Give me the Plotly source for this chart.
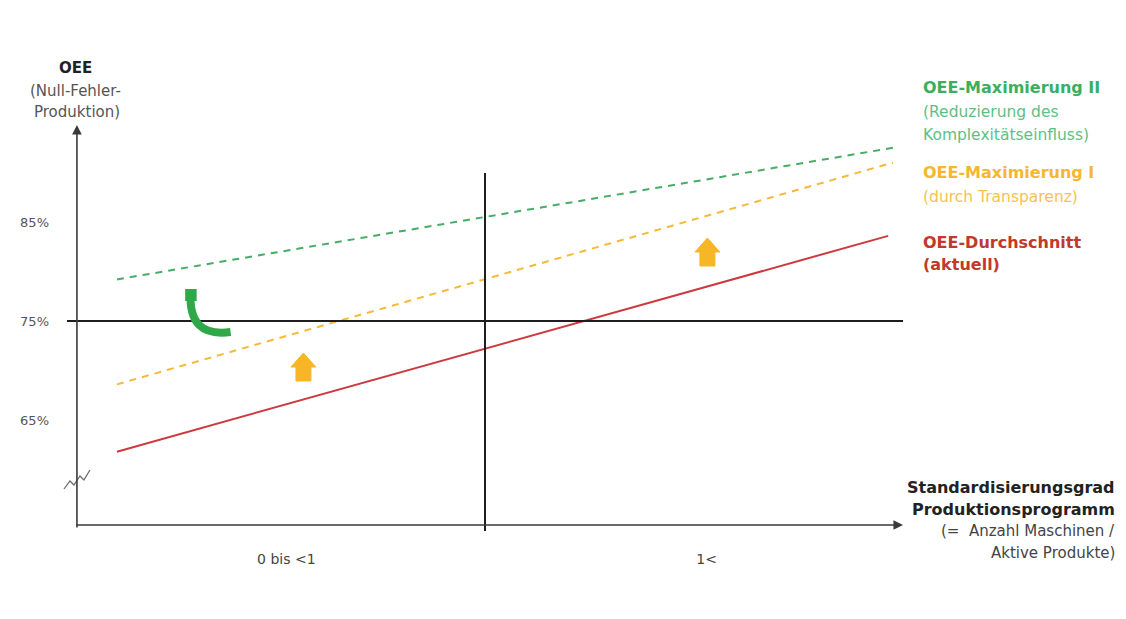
import plotly.graph_objects as go

# ---------------- data ----------------
x_start = [0.098, 0.098, 0.098]          # Standardisierungsgrad (schematic units, 1 = Trennlinie)
x_end = [2.0, 2.0, 1.988]
oee_start = [79.2, 68.6, 61.8]           # OEE in %
oee_end = [92.5, 91.0, 83.6]
series_names = ["OEE-Maximierung II", "OEE-Maximierung I", "OEE-Durchschnitt"]
series_colors = ["#45ad66", "#f6b93a", "#cc3a3f"]
series_dash = ["7px,6px", "7px,6px", "solid"]

y_tickvals = [65, 75, 85]
y_ticktext = ["65%", "75%", "85%"]
x_tickvals = [0.513, 1.543]
x_ticktext = ["0 bis <1", "1<"]

reference_oee = 75
divider_x = 1

up_arrows_x = [0.555, 1.545]
up_arrows_y = [70.35, 81.97]

# ---------------- helpers (pixel scale of the plot, page pixels) ----------------
PX_X = 409.0   # px per x unit
PX_Y = 9.9     # px per % OEE
X0 = 75        # page px of x=0
Y75 = 321      # page px of 75 %
PL, PR, PT, PB = 50, 925, 110, 545   # plot area in page px
OFF = 8        # body margin of the html page

def dx(px):
    return (px - X0) / PX_X

def dy(py):
    return 75 + (Y75 - py) / PX_Y

def paper_x(px):
    return (px - PL) / (PR - PL)

def paper_y(py):
    return (PB - py) / (PB - PT)

fig = go.Figure()

for xs, xe, ys, ye, name, col, dash in zip(x_start, x_end, oee_start, oee_end,
                                           series_names, series_colors, series_dash):
    fig.add_trace(go.Scatter(x=[xs, xe], y=[ys, ye], mode="lines", name=name,
                             line=dict(color=col, width=2, dash=dash),
                             showlegend=False, hoverinfo="skip"))

shapes = []
# reference 75% line
shapes.append(dict(type="line", xref="x", yref="y", x0=dx(65), x1=dx(903),
                   y0=reference_oee, y1=reference_oee, line=dict(color="#1e1e1e", width=2)))
# divider
shapes.append(dict(type="line", xref="x", yref="y", x0=divider_x, x1=divider_x,
                   y0=dy(173), y1=dy(531), line=dict(color="#1e1e1e", width=2)))

# orange up arrows (block arrows)
for cx, cy in zip(up_arrows_x, up_arrows_y):
    hw, sw, hh, sh = 12.5 / PX_X, 7.5 / PX_X, 14 / PX_Y, 14 / PX_Y
    top = cy + hh
    path = (f"M {cx},{top} L {cx+hw},{cy} L {cx+sw},{cy} L {cx+sw},{cy-sh} "
            f"L {cx-sw},{cy-sh} L {cx-sw},{cy} L {cx-hw},{cy} Z")
    shapes.append(dict(type="path", xref="x", yref="y", path=path,
                       fillcolor="#f7b626", line=dict(color="#f7b626", width=1)))

# green curved arrow
p = (f"M {dx(189)},{dy(292)} Q {dx(186)},{dy(338)} {dx(229)},{dy(332)}")
shapes.append(dict(type="path", xref="x", yref="y", path=p,
                   line=dict(color="#2fa84a", width=8)))
shapes.append(dict(type="rect", xref="x", yref="y", x0=dx(183.5), x1=dx(195),
                   y0=dy(301), y1=dy(289), fillcolor="#2fa84a", line=dict(width=0)))

# axis break squiggle
zz = [(62, 489), (68, 481), (72, 485), (78, 476), (82, 480), (88, 470)]
sq = "M " + " L ".join(f"{dx(a)},{dy(b)}" for a, b in zz)
shapes.append(dict(type="path", xref="x", yref="y", path=sq,
                   line=dict(color="#666666", width=1.2)))

annotations = []
# axes with arrows
annotations.append(dict(x=0, y=dy(125), ax=0, ay=dy(529), xref="x", yref="y",
                        axref="x", ayref="y", text="", showarrow=True,
                        arrowhead=2, arrowsize=1.2, arrowwidth=1.6, arrowcolor="#3a3a3a"))
annotations.append(dict(x=dx(903), y=dy(525), ax=dx(73), ay=dy(525), xref="x", yref="y",
                        axref="x", ayref="y", text="", showarrow=True,
                        arrowhead=2, arrowsize=1.2, arrowwidth=1.6, arrowcolor="#3a3a3a"))

FONT = "DejaVu Sans, Arial, sans-serif"

def txt(text, xpx, ypx, color, size=15, bold=False, anchor="left"):
    t = f"<b>{text}</b>" if bold else text
    annotations.append(dict(x=paper_x(xpx), y=paper_y(ypx), xref="paper", yref="paper",
                            text=t, showarrow=False, xanchor=anchor, yanchor="middle",
                            font=dict(family=FONT, size=size, color=color)))

# y axis title
txt("OEE", 74, 68, "#222222", 15, True, "center")
txt("(Null-Fehler-", 74, 91, "#555555", 15, False, "center")
txt("Produktion)", 75, 112, "#555555", 15, False, "center")

# series labels (right)
txt(series_names[0], 921, 88, "#3caf5e", 16, True)
txt("(Reduzierung des", 921, 112, "#5dbf84", 15.5)
txt("Komplexitätseinfluss)", 921, 135, "#5dbf84", 15.5)
txt(series_names[1], 921, 173, "#f5b731", 16, True)
txt("(durch Transparenz)", 921, 197, "#f5c250", 15.5)
txt(series_names[2], 921, 242, "#c0392b", 16, True)
txt("(aktuell)", 921, 264, "#c0392b", 16, True)

# x axis title (right)
txt("Standardisierungsgrad", 1117, 487, "#222222", 16, True, "right")
txt("Produktionsprogramm", 1117, 509, "#222222", 16, True, "right")
txt("(=  Anzahl Maschinen /", 1117, 531, "#444444", 15, False, "right")
txt("Aktive Produkte)", 1117, 553, "#444444", 15, False, "right")

W, H = 1126 - OFF, 619 - OFF
fig.update_layout(
    width=W, height=H,
    margin=dict(l=PL - OFF, r=W - (PR - OFF), t=PT - OFF, b=H - (PB - OFF)),
    paper_bgcolor="white", plot_bgcolor="white",
    shapes=shapes, annotations=annotations,
    xaxis=dict(range=[dx(PL), dx(PR)], showgrid=False, zeroline=False, showline=False,
               tickvals=x_tickvals, ticktext=x_ticktext, ticks="",
               tickfont=dict(family=FONT, size=14, color="#444444"), ticklabelstandoff=4),
    yaxis=dict(range=[dy(PB), dy(PT)], showgrid=False, zeroline=False, showline=False,
               tickvals=y_tickvals, ticktext=y_ticktext, ticks="",
               tickfont=dict(family=FONT, size=13, color="#555555"), ticklabelstandoff=2),
    showlegend=False,
)

fig.write_html("out.html")
